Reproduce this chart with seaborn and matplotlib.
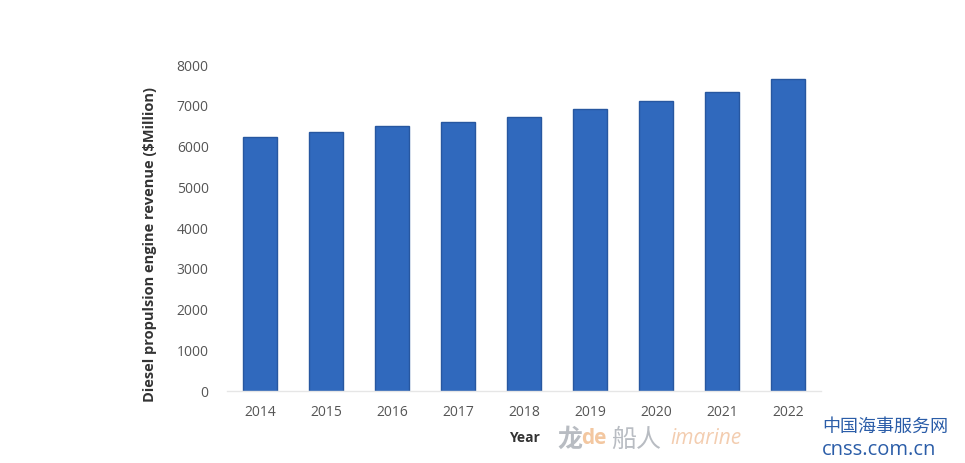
import matplotlib
matplotlib.use("Agg")
import matplotlib.pyplot as plt
import seaborn as sns
import pandas as pd

years = ["2014", "2015", "2016", "2017", "2018", "2019", "2020", "2021", "2022"]
revenue = [6230, 6350, 6500, 6600, 6730, 6920, 7120, 7340, 7660]
y_ticks = [0, 1000, 2000, 3000, 4000, 5000, 6000, 7000, 8000]

sns.set_theme(style="white")
plt.rcParams['font.family'] = ['Open Sans', 'Noto Sans CJK SC', 'DejaVu Sans']

df = pd.DataFrame({"Year": years, "Revenue": revenue})

fig = plt.figure(figsize=(9.65, 4.63), dpi=100)
ax = fig.add_axes([0.235, 0.1555, 0.616, 0.704])

sns.barplot(data=df, x="Year", y="Revenue", color="#3069BD", width=0.52,
            edgecolor="#2757A0", linewidth=1.0, saturation=1, ax=ax)

ax.set_ylim(0, 8000)
ax.set_yticks(y_ticks)
ax.set_yticklabels([str(t) for t in y_ticks])
ax.set_xlim(-0.5, len(years) - 0.5)
for s in ["top", "right", "left"]:
    ax.spines[s].set_visible(False)
ax.spines["bottom"].set_color("#e6e6e6")
ax.spines["bottom"].set_linewidth(1.0)
ax.tick_params(axis="both", length=0, labelsize=10, colors="#555555")
ax.tick_params(axis="y", pad=13)
ax.tick_params(axis="x", pad=10)

ax.set_ylabel("Diesel propulsion engine revenue ($Million)", fontsize=10.5,
              fontweight="bold", color="#333333", labelpad=8)
ax.yaxis.set_label_coords(-0.118, 0.45)
ax.set_xlabel("Year", fontsize=10, fontweight="bold", color="#333333", labelpad=8)

# watermarks
fig.text(0.578, 0.035, "龙", fontsize=18, color="#b8bcc2", fontweight="bold",
         family=['Noto Sans CJK SC', 'DejaVu Sans'])
fig.text(0.602, 0.04, "de", fontsize=15, color="#f3c7a0", fontweight="bold")
fig.text(0.633, 0.035, "船人", fontsize=18, color="#b8bcc2",
         family=['Noto Sans CJK SC', 'DejaVu Sans'])
fig.text(0.695, 0.04, "imarine", fontsize=15, color="#f3cdb0", style="italic")
fig.text(0.852, 0.068, "中国海事服务网", fontsize=13, color="#2b5da8",
         family=['Noto Sans CJK SC', 'DejaVu Sans'])
fig.text(0.852, 0.018, "cnss.com.cn", fontsize=14.5, color="#2b5da8")

fig.savefig("out.png", dpi=100)
